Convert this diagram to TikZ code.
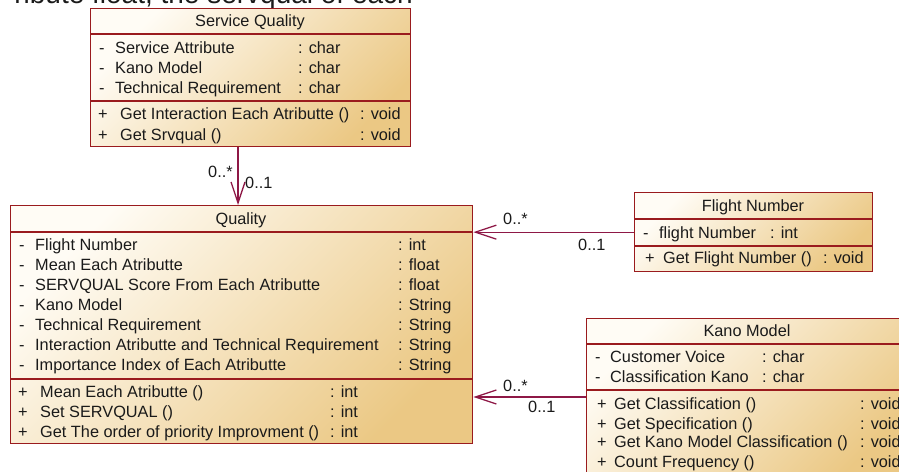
\documentclass[tikz,border=0pt]{standalone}
\usepackage{fontspec}
\setmainfont{Liberation Sans}
\usetikzlibrary{arrows.meta,calc}
\definecolor{boxred}{HTML}{9A1B1E}
\definecolor{linkred}{HTML}{8E1846}
\definecolor{cream}{HTML}{FFFCF5}
\definecolor{tan}{HTML}{EBC884}
\definecolor{ink}{HTML}{1A1A1A}
\begin{document}
\begin{tikzpicture}[x=1pt,y=-1pt,
  classbox/.style={draw=boxred,line width=1.3pt,top color=cream,bottom color=tan,shading angle=45,inner sep=0pt,anchor=north west},
  sepline/.style={draw=boxred,line width=1.1pt},
  txt/.style={anchor=base west,inner sep=0pt,text=ink,font=\fontsize{16.3}{19}\selectfont},
  ctxt/.style={txt,anchor=base},
  assoc/.style={draw=linkred,line width=1.3pt,-{Straight Barb[length=21pt,width=14pt]}}]
\useasboundingbox (0,0) rectangle (899,471);

% partial heading text at the top
\node[anchor=base east,inner sep=0pt,text=ink,font=\fontsize{28}{30}\selectfont] (toptext) at (413,4) {ribute float, the servqual of each};

% ---------- Service Quality ----------
\node[classbox,minimum width=320pt,minimum height=138pt] (sq) at (90,8) {};
\draw[sepline] ([yshift=-26pt]sq.north west) -- ([yshift=-26pt]sq.north east);
\draw[sepline] ([yshift=-93pt]sq.north west) -- ([yshift=-93pt]sq.north east);
\node[ctxt] (sqh) at (250,27) {Service Quality};
\node[txt] (sqd1) at (99,53.5) {-};
\node[txt] (sqa1) at (115,53.5) {Service Attribute};
\node[txt] (sqt1) at (298,53.5) {: char};
\node[txt] (sqd2) at (99,73.5) {-};
\node[txt] (sqa2) at (115,73.5) {Kano Model};
\node[txt] (sqt2) at (298,73.5) {: char};
\node[txt] (sqd3) at (99,93.5) {-};
\node[txt] (sqa3) at (115,93.5) {Technical Requirement};
\node[txt] (sqt3) at (298,93.5) {: char};
\node[txt] (sqp1) at (98,119.5) {+};
\node[txt] (sqm1) at (120,119.5) {Get Interaction Each Atributte ()};
\node[txt] (sqr1) at (360,119.5) {: void};
\node[txt] (sqp2) at (98,140) {+};
\node[txt] (sqm2) at (120,140) {Get Srvqual ()};
\node[txt] (sqr2) at (360,140) {: void};

% ---------- Quality ----------
\node[classbox,minimum width=462pt,minimum height=238pt] (q) at (10,205) {};
\draw[sepline] ([yshift=-27pt]q.north west) -- ([yshift=-27pt]q.north east);
\draw[sepline] ([yshift=-174pt]q.north west) -- ([yshift=-174pt]q.north east);
\node[ctxt] (qh) at (241,224.5) {Quality};
\node[txt] (qd1) at (19,250.5) {-};
\node[txt] (qa1) at (35,250.5) {Flight Number};
\node[txt] (qt1) at (398,250.5) {: int};
\node[txt] (qd2) at (19,270.5) {-};
\node[txt] (qa2) at (35,270.5) {Mean Each Atributte};
\node[txt] (qt2) at (398,270.5) {: float};
\node[txt] (qd3) at (19,290.5) {-};
\node[txt] (qa3) at (35,290.5) {SERVQUAL Score From Each Atributte};
\node[txt] (qt3) at (398,290.5) {: float};
\node[txt] (qd4) at (19,310.5) {-};
\node[txt] (qa4) at (35,310.5) {Kano Model};
\node[txt] (qt4) at (398,310.5) {: String};
\node[txt] (qd5) at (19,330.5) {-};
\node[txt] (qa5) at (35,330.5) {Technical Requirement};
\node[txt] (qt5) at (398,330.5) {: String};
\node[txt] (qd6) at (19,350.5) {-};
\node[txt] (qa6) at (35,350.5) {Interaction Atributte and Technical Requirement};
\node[txt] (qt6) at (398,350.5) {: String};
\node[txt] (qd7) at (19,370.5) {-};
\node[txt] (qa7) at (35,370.5) {Importance Index of Each Atributte};
\node[txt] (qt7) at (398,370.5) {: String};
\node[txt] (qp1) at (18,397) {+};
\node[txt] (qm1) at (40,397) {Mean Each Atributte ()};
\node[txt] (qr1) at (330,397) {: int};
\node[txt] (qp2) at (18,417) {+};
\node[txt] (qm2) at (40,417) {Set SERVQUAL ()};
\node[txt] (qr2) at (330,417) {: int};
\node[txt] (qp3) at (18,437) {+};
\node[txt] (qm3) at (40,437) {Get The order of priority Improvment ()};
\node[txt] (qr3) at (330,437) {: int};

% ---------- Flight Number ----------
\node[classbox,minimum width=238pt,minimum height=79pt] (fn) at (634,192) {};
\draw[sepline] ([yshift=-27pt]fn.north west) -- ([yshift=-27pt]fn.north east);
\draw[sepline] ([yshift=-54pt]fn.north west) -- ([yshift=-54pt]fn.north east);
\node[ctxt] (fnh) at (753,211.5) {Flight Number};
\node[txt] (fnd1) at (643,238.8) {-};
\node[txt] (fna1) at (659,238.8) {flight Number};
\node[txt] (fnt1) at (770,238.8) {: int};
\node[txt] (fnp1) at (645,263.8) {+};
\node[txt] (fnm1) at (663,263.8) {Get Flight Number ()};
\node[txt] (fnr1) at (823,263.8) {: void};

% ---------- Kano Model ----------
\node[classbox,minimum width=322pt,minimum height=162pt] (km) at (586,318) {};
\draw[sepline] ([yshift=-26pt]km.north west) -- ([yshift=-26pt]km.north east);
\draw[sepline] ([yshift=-72pt]km.north west) -- ([yshift=-72pt]km.north east);
\node[ctxt] (kmh) at (747,336.5) {Kano Model};
\node[txt] (kmd1) at (595,362.5) {-};
\node[txt] (kma1) at (610,362.5) {Customer Voice};
\node[txt] (kmt1) at (762,362.5) {: char};
\node[txt] (kmd2) at (595,382.5) {-};
\node[txt] (kma2) at (610,382.5) {Classification Kano};
\node[txt] (kmt2) at (762,382.5) {: char};
\node[txt] (kmp1) at (597,409.5) {+};
\node[txt] (kmm1) at (614,409.5) {Get Classification ()};
\node[txt] (kmr1) at (860,409.5) {: void};
\node[txt] (kmp2) at (597,429.5) {+};
\node[txt] (kmm2) at (614,429.5) {Get Specification ()};
\node[txt] (kmr2) at (860,429.5) {: void};
\node[txt] (kmp3) at (597,447.5) {+};
\node[txt] (kmm3) at (614,447.5) {Get Kano Model Classification ()};
\node[txt] (kmr3) at (860,447.5) {: void};
\node[txt] (kmp4) at (597,467.5) {+};
\node[txt] (kmm4) at (614,467.5) {Count Frequency ()};
\node[txt] (kmr4) at (860,467.5) {: void};

% ---------- connectors ----------
\draw[assoc] ([xshift=148pt]sq.south west) -- ([xshift=228pt]q.north west);
\node[txt] (l1a) at (208,177) {0..*};
\node[txt] (l1b) at (245,188.5) {0..1};

\draw[assoc] (fn.west) -- (fn.west -| q.east);
\node[txt] (l2a) at (503,224) {0..*};
\node[txt] (l2b) at (578,250.5) {0..1};

\coordinate (kin) at ([yshift=-79pt]km.north west);
\draw[assoc] (kin) -- (kin -| q.east);
\node[txt] (l3a) at (503,391.5) {0..*};
\node[txt] (l3b) at (528,412.8) {0..1};
\end{tikzpicture}
\end{document}
